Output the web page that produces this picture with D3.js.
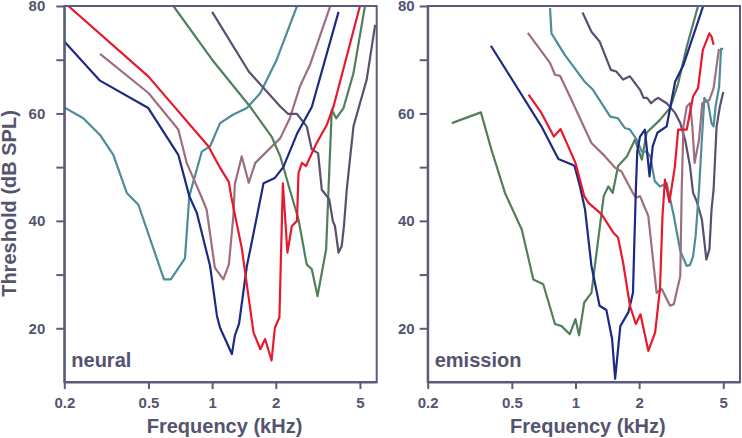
<!DOCTYPE html>
<html>
<head>
<meta charset="utf-8">
<script src="https://cdn.jsdelivr.net/npm/d3@7"></script>
<style>
  html, body { margin: 0; padding: 0; background: #ffffff; }
  svg { display: block; }
  text { font-family: "Liberation Sans", Arial, sans-serif; font-weight: bold; fill: #55546f; }
</style>
</head>
<body>
<svg id="chart" width="742" height="438"></svg>
<script>
// ---------- data ----------
const xTicks = [0.2, 0.5, 1, 2, 5];
const yTicks = [20, 30, 40, 50, 60, 70, 80];
const yTickLabels = [20, 40, 60, 80];
const panelLabels = ["neural", "emission"];
const xTitle = "Frequency (kHz)";
const yTitle = "Threshold (dB SPL)";

// neural tuning curves: [frequency kHz, threshold dB SPL]
const neuralTeal = [[0.2,61.1],[0.246,59.1],[0.295,56],[0.341,52.3],[0.395,45.2],[0.448,43],[0.592,29.1],[0.638,29.1],[0.744,33],[0.78,44.6],[0.894,52.9],[0.978,53.9],[1.09,58.2],[1.26,59.8],[1.46,61],[1.69,63.8],[2.02,70],[2.52,80]];
const neuralNavy = [[0.2,73.4],[0.295,66.1],[0.499,61],[0.692,52.3],[0.78,44.6],[0.846,41.5],[0.878,39],[0.978,31.6],[1.054,22.3],[1.09,20.1],[1.24,15.2],[1.28,18.6],[1.34,20.8],[1.46,31.6],[1.51,34.4],[1.75,47],[1.98,48],[2.17,50],[2.52,56.2],[2.96,61.2],[3.96,78.9]];
const neuralRed = [[0.209,80],[0.499,66.9],[0.96,53.9],[1.09,49.9],[1.2,47.2],[1.23,44.6],[1.38,35],[1.57,19.2],[1.69,16.1],[1.78,18],[1.91,14],[1.98,20.1],[2.08,22],[2.16,47],[2.27,34.1],[2.38,39],[2.52,40],[2.56,48.9],[2.66,50.8],[2.78,50.2],[3.12,54.5],[3.49,57.9],[3.75,61.3],[5.0,80]];
const neuralMauve = [[0.295,71.1],[0.5,63.8],[0.692,57],[0.758,50.8],[0.894,44.3],[0.942,42.1],[1.03,31.3],[1.13,29.1],[1.2,31.9],[1.26,40.9],[1.28,46.8],[1.38,52],[1.49,47.1],[1.6,50.8],[2.1,55.4],[2.33,59.1],[2.6,65],[2.9,69],[3.62,80]];
const neuralGreen = [[0.656,80],[1.0,70],[1.51,61.3],[1.91,55.7],[2.1,52],[2.33,45.8],[2.56,40.3],[2.8,31.9],[2.96,31],[3.15,26],[3.46,34.7],[3.55,45.8],[3.68,60.7],[3.86,59.1],[4.18,61],[4.66,67.5],[5.28,80]];
const neuralPurple = [[1.0,78.9],[1.49,67.8],[2.1,61.3],[2.29,59.9],[2.52,59.9],[2.8,57.6],[2.96,53.3],[3.17,52.6],[3.3,45.8],[3.58,44],[3.72,40],[3.81,39],[3.96,34.1],[4.1,35.3],[4.2,39],[4.33,45.8],[4.66,57.6],[5.38,66.3],[5.9,76.5]];

// emission (DPOAE) suppression curves
const emissionGreen = [[0.26,58.2],[0.357,60.2],[0.40,53.3],[0.464,45.2],[0.557,38.4],[0.632,29.1],[0.704,28.2],[0.8,20.8],[0.86,20.4],[0.94,18.9],[1.0,21.7],[1.04,18.7],[1.1,24.8],[1.19,26.6],[1.36,44.6],[1.43,46.4],[1.5,45.2],[1.59,50.2],[1.75,52],[1.91,55.1],[2.06,51.4],[2.17,56.4],[2.51,58.8],[2.8,61],[3.06,65.6],[3.36,72.4],[3.8,80]];
const emissionNavy = [[0.398,72.6],[0.69,57.6],[0.83,51.5],[0.96,50.5],[0.99,50.2],[1.05,46.4],[1.11,42.1],[1.19,31.6],[1.3,24.2],[1.4,23.4],[1.49,18],[1.54,10.6],[1.63,20.4],[1.78,23],[1.87,26.6],[1.93,45.8],[1.96,52.9],[2.02,55.7],[2.13,57],[2.24,48.3],[2.32,53.9],[2.44,56.4],[2.7,57.6],[2.96,65.9],[3.24,69],[4.02,80]];
const emissionRed = [[0.6,63.5],[0.69,60.1],[0.79,55.7],[0.85,57.1],[1.0,50.8],[1.1,44.6],[1.15,43.4],[1.33,41.2],[1.51,37.8],[1.59,36.9],[1.68,32.2],[1.81,24.2],[1.93,20.8],[2.03,22.6],[2.21,15.8],[2.38,19.2],[2.51,27.3],[2.58,40.9],[2.65,47.7],[2.78,43.5],[2.95,50],[3.06,57],[3.36,57],[3.6,63.2],[3.8,64.7],[4.0,71.8],[4.3,74.9],[4.4,74.3],[4.5,72.8]];
const emissionMauve = [[0.595,75],[0.758,69.4],[0.8,67.2],[0.845,67],[0.94,63.2],[1.05,59.1],[1.19,54.5],[1.38,52],[1.54,49.9],[1.65,49.2],[1.85,45.5],[1.93,44.3],[2.02,44.6],[2.21,40.9],[2.42,26.6],[2.56,27.3],[2.8,24.2],[2.92,24.5],[3.13,29.7],[3.18,45.8],[3.24,57.6],[3.36,61.3],[3.48,61.9],[3.57,57.6],[3.66,50.8],[3.84,55.1],[3.98,61.9],[4.3,62.5],[4.5,64.7],[4.77,72]];
const emissionTeal = [[0.758,79.6],[0.77,74.9],[0.89,70.9],[1.1,66],[1.21,64.4],[1.46,59.4],[1.59,59.1],[1.71,57.3],[1.81,57],[1.95,55.1],[2.06,52.9],[2.17,52.9],[2.26,52],[2.37,47.4],[2.51,46.4],[2.7,47],[2.92,40.9],[3.13,34.4],[3.36,31.6],[3.48,31.8],[3.6,33.4],[3.7,37.2],[3.84,45.8],[3.96,55.1],[4.07,62.9],[4.24,61.9],[4.4,58.2],[4.5,57.6],[4.6,61.3],[4.78,65],[4.88,72],[5.0,72]];
const emissionPurple = [[1.08,78.8],[1.19,75.2],[1.3,73.4],[1.47,68.1],[1.56,67.8],[1.68,66.3],[1.81,66.9],[2.02,64.4],[2.1,62.9],[2.18,62.9],[2.28,61.9],[2.37,62.5],[2.46,62.9],[2.55,62.5],[2.7,61.9],[2.96,60.1],[3.13,58.2],[3.3,55.1],[3.48,50.2],[3.6,45.2],[3.74,43.7],[3.96,40.3],[4.16,32.8],[4.3,34.7],[4.4,42.1],[4.5,45.8],[4.65,57.6],[4.82,61.3],[5.0,64]];

const curveColors = {teal:"#4c8d9b", navy:"#1c2a85", red:"#e8192c", mauve:"#9e6e80", green:"#527f5b", purple:"#58506f"};

const panels = [
  {label: panelLabels[0], left: 64.3, right: 376.7, tickPad: 11,
   series: [["teal",neuralTeal],["mauve",neuralMauve],["green",neuralGreen],["purple",neuralPurple],["navy",neuralNavy],["red",neuralRed]]},
  {label: panelLabels[1], left: 427.7, right: 740, tickPad: 5,
   series: [["green",emissionGreen],["purple",emissionPurple],["teal",emissionTeal],["mauve",emissionMauve],["navy",emissionNavy],["red",emissionRed]]}
];

const TOP = 6, BOTTOM = 382;
const axisColor = "#5c5b7b";
const svg = d3.select("#chart");

panels.forEach((p, i) => {
  const x = d3.scaleLog().domain([0.2, 6]).range([p.left, p.right]);
  const y = d3.scaleLinear().domain([10, 80]).range([BOTTOM, TOP]);

  const clipId = "clip" + i;
  svg.append("clipPath").attr("id", clipId).append("rect")
    .attr("x", p.left).attr("y", TOP).attr("width", p.right - p.left).attr("height", BOTTOM - TOP);

  const g = svg.append("g");
  const line = d3.line().x(d => x(d[0])).y(d => y(d[1]));
  g.append("g").attr("clip-path", `url(#${clipId})`)
    .selectAll("path").data(p.series).join("path")
    .attr("d", d => line(d[1]))
    .attr("fill", "none")
    .attr("stroke", d => curveColors[d[0]])
    .attr("stroke-width", 2.2)
    .attr("stroke-linejoin", "round");

  // frame
  g.append("rect").attr("x", p.left).attr("y", TOP)
    .attr("width", p.right - p.left).attr("height", BOTTOM - TOP)
    .attr("fill", "none").attr("stroke", axisColor).attr("stroke-width", 2);

  const yAxis = d3.axisLeft(y).tickValues(yTicks).tickSize(8).tickSizeOuter(0).tickPadding(p.tickPad)
    .tickFormat(d => yTickLabels.includes(d) ? d : "");
  const ya = g.append("g").attr("transform", `translate(${p.left},0)`).call(yAxis);

  const xAxis = d3.axisBottom(x).tickValues(xTicks).tickSize(7).tickSizeOuter(0).tickPadding(8)
    .tickFormat(d => String(d));
  const xa = g.append("g").attr("transform", `translate(0,${BOTTOM})`).call(xAxis);

  [ya, xa].forEach(a => {
    a.select(".domain").attr("stroke", axisColor).attr("stroke-width", 2);
    a.selectAll(".tick line").attr("stroke", axisColor).attr("stroke-width", 2);
    a.selectAll(".tick text").attr("fill", "#55546f").style("font-size", "15px")
      .style("font-family", "'Liberation Sans', Arial, sans-serif").style("font-weight", "bold");
  });

  g.append("text").attr("x", p.left + 7).attr("y", 366.5)
    .style("font-size", "20px").text(p.label);

  g.append("text").attr("x", (p.left + p.right) / 2 + 4).attr("y", 433)
    .attr("text-anchor", "middle").style("font-size", "20px").text(xTitle);
});

svg.append("text")
  .attr("transform", "translate(15.5,203.5) rotate(-90)")
  .attr("text-anchor", "middle").style("font-size", "20px").text(yTitle);
</script>
</body>
</html>
